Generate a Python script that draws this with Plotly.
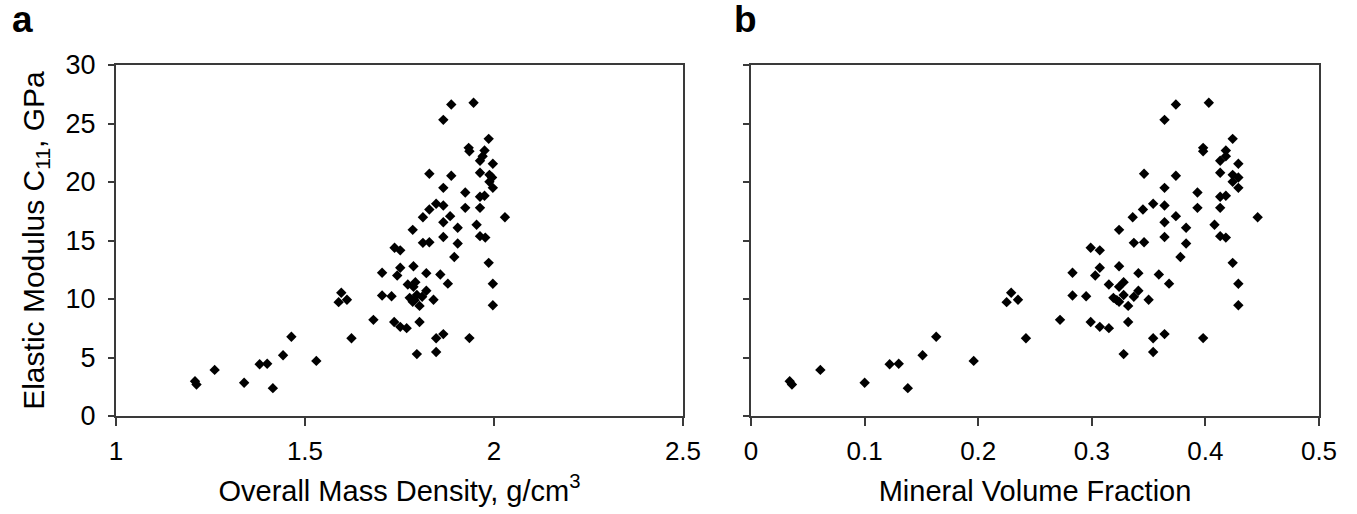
import plotly.graph_objects as go

density = [1.415, 1.213, 1.339, 1.209, 1.261, 1.380, 1.400, 1.530, 1.442, 1.796,
           1.847, 1.847, 1.623, 1.935, 1.464, 1.866, 1.769, 1.752, 1.736, 1.803,
           1.681, 1.803, 1.997, 1.589, 1.785, 1.611, 1.840, 1.790, 1.777, 1.810,
           1.729, 1.704, 1.796, 1.596, 1.821, 1.787, 1.772, 1.878, 1.997, 1.792,
           1.744, 1.858, 1.821, 1.704, 1.752, 1.787, 1.986, 1.895, 1.752, 1.737,
           1.904, 1.812, 1.829, 1.977, 1.866, 1.963, 1.785, 1.904, 1.954, 1.866,
           1.812, 2.029, 1.884, 1.829, 1.924, 1.963, 1.866, 1.847, 1.963, 1.975,
           1.924, 1.866, 1.997, 1.988, 1.995, 1.887, 1.988, 1.829, 1.963, 1.997,
           1.963, 1.970, 1.935, 1.975, 1.933, 1.986, 1.866, 1.887, 1.946]

mineral_fraction = [0.138, 0.036, 0.100, 0.034, 0.061, 0.122, 0.130, 0.196, 0.151, 0.328,
                    0.354, 0.354, 0.242, 0.398, 0.163, 0.364, 0.315, 0.307, 0.299, 0.332,
                    0.272, 0.332, 0.429, 0.225, 0.324, 0.235, 0.350, 0.322, 0.319, 0.337,
                    0.295, 0.283, 0.328, 0.229, 0.341, 0.324, 0.315, 0.368, 0.429, 0.328,
                    0.303, 0.359, 0.341, 0.283, 0.307, 0.324, 0.424, 0.378, 0.307, 0.299,
                    0.383, 0.337, 0.346, 0.418, 0.364, 0.413, 0.324, 0.383, 0.408, 0.364,
                    0.336, 0.446, 0.374, 0.345, 0.393, 0.413, 0.364, 0.354, 0.413, 0.418,
                    0.393, 0.364, 0.429, 0.424, 0.429, 0.374, 0.424, 0.346, 0.413, 0.429,
                    0.413, 0.418, 0.398, 0.418, 0.398, 0.424, 0.364, 0.374, 0.403]

modulus = [2.38, 2.69, 2.84, 2.97, 3.94, 4.42, 4.46, 4.71, 5.19, 5.29,
           5.47, 6.64, 6.65, 6.66, 6.77, 7.00, 7.51, 7.62, 8.03, 8.03,
           8.22, 9.41, 9.47, 9.73, 9.77, 9.93, 9.93, 9.90, 10.10, 10.19,
           10.24, 10.30, 10.34, 10.53, 10.71, 11.04, 11.24, 11.31, 11.30, 11.44,
           12.01, 12.09, 12.21, 12.24, 12.67, 12.80, 13.09, 13.59, 14.16, 14.38,
           14.74, 14.80, 14.85, 15.25, 15.30, 15.37, 15.91, 16.09, 16.35, 16.56,
           16.99, 16.99, 17.08, 17.65, 17.79, 17.79, 17.99, 18.14, 18.74, 18.82,
           19.10, 19.50, 19.50, 20.02, 20.38, 20.53, 20.61, 20.71, 20.79, 21.56,
           21.81, 22.20, 22.63, 22.69, 22.92, 23.69, 25.31, 26.62, 26.77]

FONT = "Liberation Sans, Arial, sans-serif"
AXC = "#3a3a3a"
marker = dict(symbol="diamond", size=8, color="black")

fig = go.Figure()
fig.add_trace(go.Scatter(x=density, y=modulus, mode="markers", marker=marker,
                         xaxis="x", yaxis="y", showlegend=False))
fig.add_trace(go.Scatter(x=mineral_fraction, y=modulus, mode="markers", marker=marker,
                         xaxis="x2", yaxis="y2", showlegend=False))

axis_common = dict(showgrid=False, zeroline=False, showline=True, mirror=True,
                   linecolor=AXC, linewidth=2, ticks="outside", tickcolor=AXC,
                   tickwidth=1.5)
xtickfont = dict(family=FONT, size=26, color="black")
ytickfont = dict(family=FONT, size=27, color="black")

fig.update_layout(
    width=1357, height=514,
    margin=dict(l=116, r=38, t=65, b=98),
    paper_bgcolor="white", plot_bgcolor="white",
    font=dict(family=FONT, color="black"),
    xaxis=dict(domain=[0, 0.4713], range=[1, 2.5], dtick=0.5, ticklen=8,
               ticklabelstandoff=3, tickfont=xtickfont,
               title=dict(text="Overall Mass Density, g/cm<sup>3</sup>",
                          font=dict(family=FONT, size=29), standoff=15),
               anchor="y", **axis_common),
    xaxis2=dict(domain=[0.5279, 1], range=[0, 0.5], dtick=0.1, ticklen=8,
                ticklabelstandoff=3, tickfont=xtickfont,
                title=dict(text="Mineral Volume Fraction",
                           font=dict(family=FONT, size=29), standoff=15),
                anchor="y2", **axis_common),
    yaxis=dict(range=[0, 30], dtick=5, ticklen=6, anchor="x", ticklabelstandoff=7,
               tickfont=ytickfont,
               title=dict(text="Elastic Modulus C<sub>11</sub>, GPa",
                          font=dict(family=FONT, size=30), standoff=12),
               **axis_common),
    yaxis2=dict(range=[0, 30], dtick=5, ticklen=6, anchor="x2", matches="y",
                showticklabels=False, tickfont=ytickfont, **axis_common),
    annotations=[
        dict(text="<b>a</b>", x=-0.078, y=1.13, xref="paper", yref="paper",
             xanchor="center", yanchor="middle",
             showarrow=False, font=dict(family=FONT, size=37, color="black")),
        dict(text="<b>b</b>", x=0.5235, y=1.13, xref="paper", yref="paper",
             xanchor="center", yanchor="middle",
             showarrow=False, font=dict(family=FONT, size=37, color="black")),
    ],
)

fig.write_html("out.html", config={"displayModeBar": False},
               post_script="document.body.style.margin='0';")
